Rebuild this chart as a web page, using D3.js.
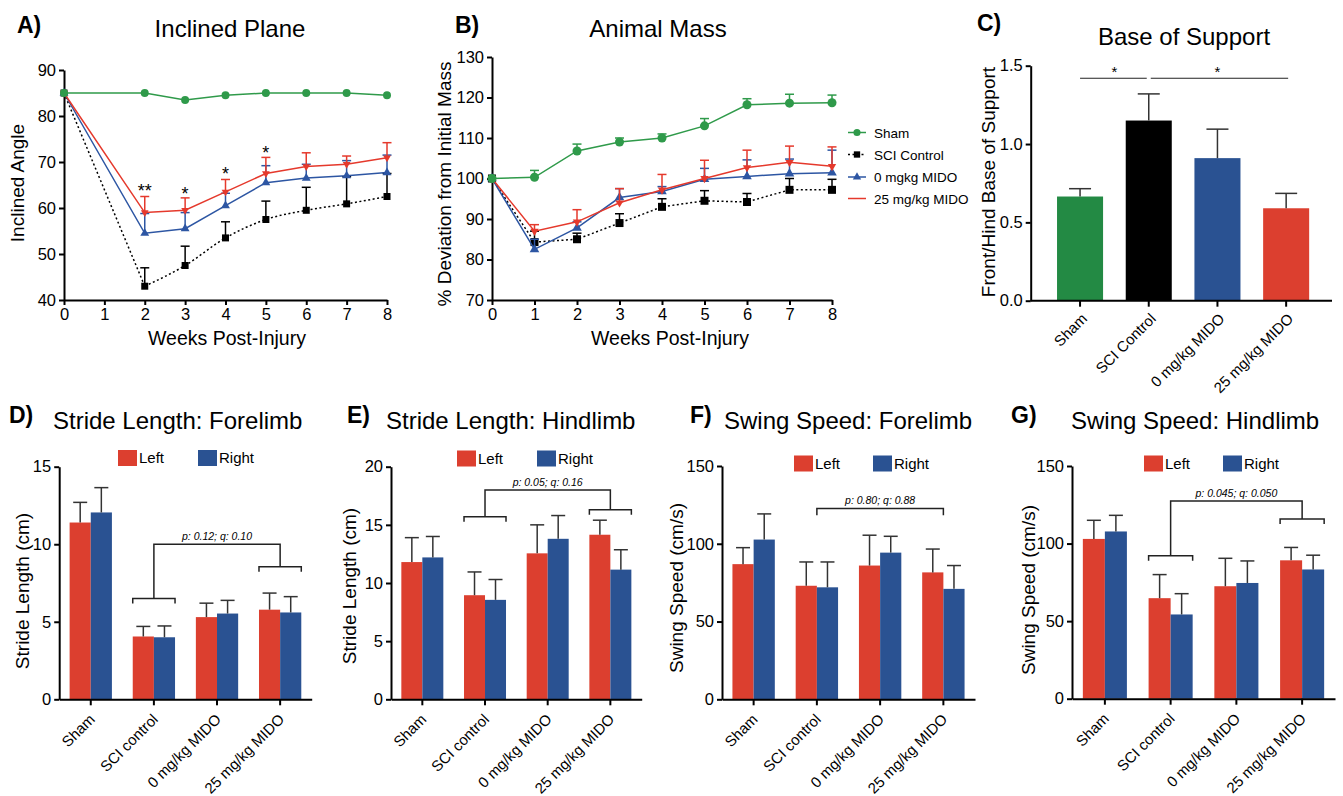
<!DOCTYPE html>
<html><head><meta charset="utf-8">
<script src="https://cdn.jsdelivr.net/npm/d3@7"></script>
<style>
body{margin:0;background:#fff;}
svg{display:block;font-family:"Liberation Sans",Arial,Helvetica,sans-serif;}
</style></head><body>
<svg id="chart" width="1343" height="796"></svg>
<script>
// ================= DATA =================
// Panel A: Inclined plane
const weeksA = [0,2,3,4,5,6,7,8];
const inclineSham = [85,85,83.5,84.5,85,85,85,84.5];
const inclineSCI = [85,43,47.5,53.5,57.5,59.5,60.9,62.5];
const inclineSCIUpper = [85,47,51.7,57,61.5,64.5,66.8,67.5];
const incline0 = [85,54.5,55.5,60.5,65.5,66.5,67,67.7];
const incline0Upper = [85,58.8,59,63.2,69.2,69.5,70.3,71.5];
const incline25 = [85,59,59.5,63.5,67.5,69,69.5,70.9];
const incline25Upper = [85,62.5,62.2,66.2,71,72,71.3,74.2];
const inclineStarWeeks = [2,3,4,5];
const inclineStarLabels = ["**","*","*","*"];
const inclineStarValues = [64.6,63.9,68.2,72.8];
const weekTicks = [0,1,2,3,4,5,6,7,8];
const inclineTicks = [40,50,60,70,80,90];

// Panel B: Animal mass
const weeksB = [0,1,2,3,4,5,6,7,8];
const massSham = [100,100.3,106.8,109,110,113,118.2,118.6,118.7];
const massShamUpper = [100,102,108.5,110,111,114.8,119.7,120.8,120.6];
const massSCI = [100,84.3,85,89,93,94.5,94.2,97.2,97.2];
const massSCIUpper = [100,87,86.5,91.3,95,97,96.3,100,99.8];
const mass0 = [100,82.5,87.8,95.3,96.8,99.8,100.5,101.2,101.4];
const mass0Upper = [100,85,89.3,97.5,98,102.5,104.6,104.8,107];
const mass25 = [100,87,89.3,94,97.2,100,102.7,104,103];
const mass25Upper = [100,88.6,92.3,97.5,101,104.5,107,108,107.8];
const massTicks = [70,80,90,100,110,120,130];
const lineSeriesNames = ["Sham","SCI Control","0 mgkg MIDO","25 mg/kg MIDO"];

// Panel C: Base of support
const bosCategories = ["Sham","SCI Control","0 mg/kg MIDO","25 mg/kg MIDO"];
const bosValues = [0.665,1.15,0.91,0.59];
const bosUpper = [0.715,1.32,1.095,0.685];
const bosTicks = [0,0.5,1.0,1.5];

// Panels D-G: gait
const gaitCategories = ["Sham","SCI control","0 mg/kg MIDO","25 mg/kg MIDO"];
const sides = ["Left","Right"];
const strideForeLeft = [11.4,4.05,5.3,5.78];
const strideForeLeftUpper = [12.7,4.7,6.2,6.85];
const strideForeRight = [12.05,4.0,5.53,5.6];
const strideForeRightUpper = [13.65,4.73,6.38,6.62];
const strideHindLeft = [11.8,8.95,12.55,14.15];
const strideHindLeftUpper = [13.9,10.95,15.0,15.4];
const strideHindRight = [12.2,8.55,13.8,11.15];
const strideHindRightUpper = [14.0,10.3,15.8,12.86];
const swingForeLeft = [86.9,73,86,81.6];
const swingForeLeftUpper = [97.5,88.3,105.5,96.6];
const swingForeRight = [102.7,72,94.3,71];
const swingForeRightUpper = [119.2,88.3,104.8,86];
const swingHindLeft = [103,64.8,72.5,89.2];
const swingHindLeftUpper = [115,80,90.5,97.5];
const swingHindRight = [107.8,54.3,74.6,83.3];
const swingHindRightUpper = [118.2,67.7,88.8,92.5];
const strideForeTicks = [0,5,10,15];
const strideHindTicks = [0,5,10,15,20];
const swingTicks = [0,50,100,150];
const pLabels = ["p: 0.12; q: 0.10","p: 0.05; q: 0.16","p: 0.80; q: 0.88","p: 0.045;  q: 0.050"];

// ================= STYLE =================
const C_GREEN = "#2f9a4a", C_BLUE = "#2d56a3", C_RED = "#e5392c", C_BLACK = "#000";
const BAR_RED = "#dc3f2f", BAR_BLUE = "#2a5292", BAR_GREEN = "#238a44";
const ERR = "#333";
const TICK_FS = 16.5;

const svg = d3.select("#chart");

function txt(x, y, s, o = {}) {
  const t = svg.append("text").attr("x", x).attr("y", y).text(s)
    .attr("fill", "#000")
    .style("font-size", (o.size || 16) + "px")
    .attr("text-anchor", o.anchor || "start");
  if (o.bold) t.style("font-weight", "bold");
  if (o.italic) t.style("font-style", "italic");
  if (o.rotate) t.attr("transform", `rotate(${o.rotate},${x},${y})`);
  return t;
}

function styleAxis(g, fs) {
  g.attr("font-family", null).attr("font-size", null);
  g.select(".domain").attr("stroke", "#000").attr("stroke-width", 2);
  g.selectAll(".tick line").attr("stroke", "#000").attr("stroke-width", 2);
  g.selectAll(".tick text").attr("fill", "#000").style("font-size", (fs || TICK_FS) + "px");
}

// ================= LINE PANELS =================
function linePanel(cfg) {
  const x = d3.scaleLinear().domain(cfg.xDomain).range(cfg.xRange);
  const y = d3.scaleLinear().domain(cfg.yDomain).range(cfg.yRange);
  const g = svg.append("g");
  const ya = g.append("g").attr("transform", `translate(${cfg.xRange[0]},0)`)
    .call(d3.axisLeft(y).tickValues(cfg.yTicks).tickSize(5).tickSizeOuter(0).tickPadding(3).tickFormat(d3.format("d")));
  styleAxis(ya);
  const xa = g.append("g").attr("transform", `translate(0,${cfg.yRange[0]})`)
    .call(d3.axisBottom(x).tickValues(cfg.xTicks).tickSize(5).tickSizeOuter(0).tickPadding(3).tickFormat(d3.format("d")));
  styleAxis(xa);

  cfg.series.forEach(s => {
    const pts = s.xs.map((xv, i) => ({x: xv, y: s.ys[i], up: s.up ? s.up[i] : null}));
    const sg = g.append("g");
    // error bars
    pts.filter(p => p.up != null && p.up > p.y).forEach(p => {
      const cx = x(p.x);
      sg.append("line").attr("x1", cx).attr("x2", cx).attr("y1", y(p.y)).attr("y2", y(p.up))
        .attr("stroke", s.color).attr("stroke-width", 1.5);
      sg.append("line").attr("x1", cx - 4.5).attr("x2", cx + 4.5).attr("y1", y(p.up)).attr("y2", y(p.up))
        .attr("stroke", s.color).attr("stroke-width", 1.5);
    });
    const line = d3.line().x(p => x(p.x)).y(p => y(p.y));
    const drawPath = (data, curve) => sg.append("path").attr("d", line.curve(curve)(data))
      .attr("fill", "none").attr("stroke", s.color)
      .attr("stroke-width", 1.5).attr("stroke-dasharray", s.dash || null);
    if (s.smoothFrom != null) {
      drawPath(pts.slice(0, s.smoothFrom + 1), d3.curveLinear);
      drawPath(pts.slice(s.smoothFrom), d3.curveMonotoneX);
    } else {
      drawPath(pts, d3.curveLinear);
    }
    if (s.sym) {
      pts.forEach(p => {
        sg.append("path").attr("d", d3.symbol().type(s.sym).size(s.size)())
          .attr("transform", `translate(${x(p.x)},${y(p.y)}) rotate(${s.rot || 0})`)
          .attr("fill", s.color);
      });
    }
  });
  return {x, y, g};
}

// Panel A
const pA = linePanel({
  xDomain: [0, 8], xRange: [64, 387], yDomain: [40, 90], yRange: [300, 70],
  xTicks: weekTicks, yTicks: inclineTicks,
  series: [
    {xs: weeksA, ys: inclineSCI, up: inclineSCIUpper, color: C_BLACK, dash: "2,2.5", sym: d3.symbolSquare, size: 49, smoothFrom: 1},
    {xs: weeksA, ys: incline0, up: incline0Upper, color: C_BLUE, sym: d3.symbolTriangle, size: 34},
    {xs: weeksA, ys: incline25, up: incline25Upper, color: C_RED, sym: d3.symbolTriangle, size: 26, rot: 180},
    {xs: weeksA, ys: inclineSham, up: null, color: C_GREEN, sym: d3.symbolCircle, size: 50}
  ]
});
inclineStarWeeks.forEach((w, i) => {
  txt(pA.x(w), pA.y(inclineStarValues[i]) + 10, inclineStarLabels[i], {size: 18, anchor: "middle"});
});
txt(17, 33, "A)", {size: 23, bold: true});
txt(230, 37, "Inclined Plane", {size: 24, anchor: "middle"});
txt(24, 183, "Inclined Angle", {size: 19, anchor: "middle", rotate: -90});
txt(227, 345, "Weeks Post-Injury", {size: 19.5, anchor: "middle"});

// Panel B
const pB = linePanel({
  xDomain: [0, 8], xRange: [492, 832], yDomain: [70, 130], yRange: [300, 57],
  xTicks: weekTicks, yTicks: massTicks,
  series: [
    {xs: weeksB, ys: massSCI, up: massSCIUpper, color: C_BLACK, dash: "2,2.5", sym: d3.symbolSquare, size: 64},
    {xs: weeksB, ys: mass0, up: mass0Upper, color: C_BLUE, sym: d3.symbolTriangle, size: 40},
    {xs: weeksB, ys: mass25, up: mass25Upper, color: C_RED, sym: d3.symbolTriangle, size: 30, rot: 180},
    {xs: weeksB, ys: massSham, up: massShamUpper, color: C_GREEN, sym: d3.symbolCircle, size: 64}
  ]
});
txt(455, 33, "B)", {size: 23, bold: true});
txt(658, 37, "Animal Mass", {size: 24, anchor: "middle"});
txt(451, 184, "% Deviation from Initial Mass", {size: 19, anchor: "middle", rotate: -90});
txt(670, 345, "Weeks Post-Injury", {size: 19.5, anchor: "middle"});
// legend B
const legColors = [C_GREEN, C_BLACK, C_BLUE, C_RED];
const legSyms = [d3.symbolCircle, d3.symbolSquare, d3.symbolTriangle, null];
const legDash = [null, "2,2.5", null, null];
const legSizes = [40, 40, 30, 0];
const legY = [132.5, 154.5, 177, 198.5];
lineSeriesNames.forEach((n, i) => {
  svg.append("line").attr("x1", 848).attr("x2", 866).attr("y1", legY[i]).attr("y2", legY[i])
    .attr("stroke", legColors[i]).attr("stroke-width", 1.5).attr("stroke-dasharray", legDash[i]);
  if (legSyms[i]) svg.append("path").attr("d", d3.symbol().type(legSyms[i]).size(legSizes[i])())
    .attr("transform", `translate(857,${legY[i]})`).attr("fill", legColors[i]);
  txt(874, legY[i] + 5, n, {size: 13.5});
});

// ================= PANEL C =================
(function () {
  const x = d3.scaleBand().domain(bosCategories).range([1045.7, 1320.5]).paddingInner(0.33).paddingOuter(0.165);
  const y = d3.scaleLinear().domain([0, 1.5]).range([300.7, 65.7]);
  const cols = [BAR_GREEN, "#000", BAR_BLUE, BAR_RED];
  const g = svg.append("g");
  bosCategories.forEach((c, i) => {
    g.append("rect").attr("x", x(c)).attr("width", x.bandwidth()).attr("y", y(bosValues[i]))
      .attr("height", y(0) - y(bosValues[i])).attr("fill", cols[i]);
    const cx = x(c) + x.bandwidth() / 2;
    g.append("line").attr("x1", cx).attr("x2", cx).attr("y1", y(bosValues[i])).attr("y2", y(bosUpper[i]))
      .attr("stroke", ERR).attr("stroke-width", 1.5);
    g.append("line").attr("x1", cx - 11).attr("x2", cx + 11).attr("y1", y(bosUpper[i])).attr("y2", y(bosUpper[i]))
      .attr("stroke", ERR).attr("stroke-width", 1.5);
  });
  const ya = g.append("g").attr("transform", "translate(1030.7,0)")
    .call(d3.axisLeft(y).tickValues(bosTicks).tickSize(5).tickSizeOuter(0).tickPadding(3).tickFormat(d3.format(".1f")));
  styleAxis(ya);
  const xa = g.append("g").attr("transform", `translate(0,${y(0)})`)
    .call(d3.axisBottom(x).tickSize(6).tickSizeOuter(0));
  styleAxis(xa, 15);
  xa.select(".domain").remove();
  xa.append("line").attr("x1", 1030.7).attr("x2", 1332).attr("y1", 0).attr("y2", 0).attr("stroke", "#000").attr("stroke-width", 2);
  xa.selectAll(".tick text").attr("x", 0).attr("y", 0).attr("dy", null).attr("text-anchor", "end")
    .attr("transform", "translate(8,19) rotate(-45)");
  // significance
  const cxs = bosCategories.map(c => x(c) + x.bandwidth() / 2);
  const sy = y(1.42);
  g.append("line").attr("x1", cxs[0]).attr("x2", cxs[1] - 2).attr("y1", sy).attr("y2", sy).attr("stroke", "#222").attr("stroke-width", 1.2);
  g.append("line").attr("x1", cxs[1] + 2).attr("x2", cxs[3] + 2).attr("y1", sy).attr("y2", sy).attr("stroke", "#222").attr("stroke-width", 1.2);
  txt((cxs[0] + cxs[1]) / 2, sy - 1, "*", {size: 15, anchor: "middle"});
  txt((cxs[1] + cxs[3]) / 2, sy - 1, "*", {size: 15, anchor: "middle"});
  txt(977, 31, "C)", {size: 23, bold: true});
  txt(1184, 45, "Base of Support", {size: 24, anchor: "middle"});
  txt(995, 182, "Front/Hind Base of Support", {size: 19, anchor: "middle", rotate: -90});
})();

// ================= PANELS D-G =================
function gaitPanel(cfg) {
  const x0 = d3.scaleBand().domain(gaitCategories).range(cfg.xRange).paddingInner(0.33).paddingOuter(0.165);
  const x1 = d3.scaleBand().domain(sides).range([0, x0.bandwidth()]);
  const y = d3.scaleLinear().domain(cfg.yDomain).range(cfg.yRange);
  const g = svg.append("g");
  const vals = {Left: cfg.left, Right: cfg.right};
  const ups = {Left: cfg.leftUp, Right: cfg.rightUp};
  const colors = {Left: BAR_RED, Right: BAR_BLUE};
  gaitCategories.forEach((c, i) => {
    sides.forEach(s => {
      const v = vals[s][i], u = ups[s][i];
      const bx = x0(c) + x1(s);
      g.append("rect").attr("x", bx).attr("width", x1.bandwidth()).attr("y", y(v))
        .attr("height", y(0) - y(v)).attr("fill", colors[s]);
      const cx = bx + x1.bandwidth() / 2;
      g.append("line").attr("x1", cx).attr("x2", cx).attr("y1", y(v)).attr("y2", y(u))
        .attr("stroke", ERR).attr("stroke-width", 1.5);
      g.append("line").attr("x1", cx - 7).attr("x2", cx + 7).attr("y1", y(u)).attr("y2", y(u))
        .attr("stroke", ERR).attr("stroke-width", 1.5);
    });
  });
  const ya = g.append("g").attr("transform", `translate(${cfg.xRange[0]},0)`)
    .call(d3.axisLeft(y).tickValues(cfg.yTicks).tickSize(5).tickSizeOuter(0).tickPadding(3).tickFormat(d3.format("d")));
  styleAxis(ya);
  const xa = g.append("g").attr("transform", `translate(0,${cfg.yRange[0]})`)
    .call(d3.axisBottom(x0).tickSize(6).tickSizeOuter(0));
  styleAxis(xa, 15);
  xa.selectAll(".tick text").attr("x", 0).attr("y", 0).attr("dy", null).attr("text-anchor", "end")
    .attr("transform", "translate(5,21) rotate(-45)");

  // brackets
  const cA = x0(cfg.br.a) + x0.bandwidth() / 2, cB = x0(cfg.br.b) + x0.bandwidth() / 2;
  const st = (sel) => sel.attr("stroke", "#222").attr("stroke-width", 1.5).attr("fill", "none");
  const tY = y(cfg.br.top);
  if (cfg.br.lowA != null) {
    const lA = y(cfg.br.lowA), lB = y(cfg.br.lowB);
    const aL = x0(cfg.br.a), aR = aL + x0.bandwidth();
    const bL = x0(cfg.br.b), bR = bL + x0.bandwidth();
    st(g.append("path").attr("d", `M${aL},${lA + 5}V${lA}H${aR}V${lA + 5}`));
    st(g.append("path").attr("d", `M${cA},${lA}V${tY}H${cB}V${lB}`));
    st(g.append("path").attr("d", `M${bL},${lB + 5}V${lB}H${bR}V${lB + 5}`));
  } else {
    const d = y(cfg.br.drop);
    st(g.append("path").attr("d", `M${cA},${d}V${tY}H${cB}V${d}`));
  }
  txt((cA + cB) / 2, tY - 4, cfg.br.label, {size: 10.5, italic: true, anchor: "middle"});

  // legend
  sides.forEach((s, i) => {
    const L = cfg.legend[i];
    svg.append("rect").attr("x", L[0]).attr("y", cfg.legY).attr("width", 19).attr("height", 16).attr("fill", colors[s]);
    txt(L[0] + 21, cfg.legY + 13, s, {size: 15});
  });
  txt(cfg.letterX, 423, cfg.letter, {size: 23, bold: true});
  txt(cfg.titleX, 429, cfg.title, {size: 24});
  txt(cfg.ylabX, cfg.ylabY, cfg.ylab, {size: 19, anchor: "middle", rotate: -90});
}

gaitPanel({
  xRange: [59.2, 311.7], yDomain: [0, 15], yRange: [699.3, 466.7], yTicks: strideForeTicks,
  left: strideForeLeft, leftUp: strideForeLeftUpper, right: strideForeRight, rightUp: strideForeRightUpper,
  br: {a: "SCI control", b: "25 mg/kg MIDO", lowA: 6.5, lowB: 8.55, top: 10, label: pLabels[0]},
  legend: [[118], [198]], legY: 450,
  letter: "D)", letterX: 9, title: "Stride Length: Forelimb", titleX: 53,
  ylab: "Stride Length (cm)", ylabX: 29, ylabY: 591
});
gaitPanel({
  xRange: [391, 641.7], yDomain: [0, 20], yRange: [699.3, 466.7], yTicks: strideHindTicks,
  left: strideHindLeft, leftUp: strideHindLeftUpper, right: strideHindRight, rightUp: strideHindRightUpper,
  br: {a: "SCI control", b: "25 mg/kg MIDO", lowA: 15.7, lowB: 16.3, top: 18, label: pLabels[1]},
  legend: [[457], [537]], legY: 450.5,
  letter: "E)", letterX: 347, title: "Stride Length: Hindlimb", titleX: 386,
  ylab: "Stride Length (cm)", ylabX: 356, ylabY: 586
});
gaitPanel({
  xRange: [722, 975], yDomain: [0, 150], yRange: [699.3, 466], yTicks: swingTicks,
  left: swingForeLeft, leftUp: swingForeLeftUpper, right: swingForeRight, rightUp: swingForeRightUpper,
  br: {a: "SCI control", b: "25 mg/kg MIDO", top: 122.7, drop: 118.4, label: pLabels[2]},
  legend: [[794], [873]], legY: 455.5,
  letter: "F)", letterX: 690, title: "Swing Speed: Forelimb", titleX: 724,
  ylab: "Swing Speed (cm/s)", ylabX: 683, ylabY: 588
});
gaitPanel({
  xRange: [1072, 1335], yDomain: [0, 150], yRange: [698.7, 466], yTicks: swingTicks,
  left: swingHindLeft, leftUp: swingHindLeftUpper, right: swingHindRight, rightUp: swingHindRightUpper,
  br: {a: "SCI control", b: "25 mg/kg MIDO", lowA: 92.2, lowB: 115.9, top: 127.5, label: pLabels[3]},
  legend: [[1144], [1223]], legY: 455.5,
  letter: "G)", letterX: 1011, title: "Swing Speed: Hindlimb", titleX: 1071,
  ylab: "Swing Speed (cm/s)", ylabX: 1035, ylabY: 590
});
</script>
</body></html>
